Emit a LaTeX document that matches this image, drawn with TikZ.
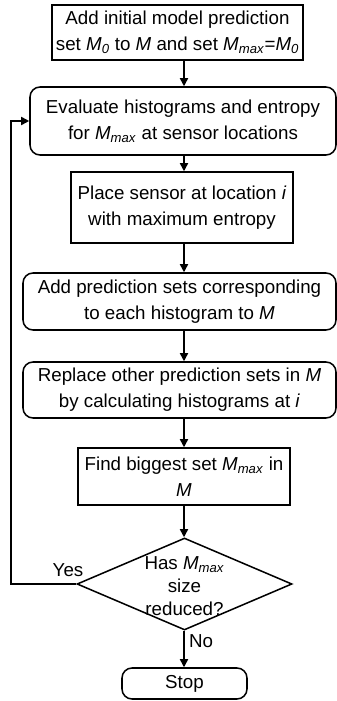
\documentclass[tikz,border=0pt]{standalone}
\usepackage{fontspec}
\setmainfont{Liberation Sans}
\usetikzlibrary{arrows.meta,shapes.geometric}

\newcommand{\Mi}{\textit{M}}
\newcommand{\Msub}[1]{\textit{M}\textsubscript{\textit{#1}}}

\begin{document}
\begin{tikzpicture}[x=0.03cm, y=-0.03cm]
    \tikzset{
        stepbox/.style = {
            draw,
            line width = 1.3pt,
            align = center,
            inner sep = 2pt,
            font = \fontsize{16pt}{22pt}\selectfont
        },
        roundbox/.style = {
            stepbox,
            rounded corners = 0.3cm
        },
        decision/.style = {
            draw,
            line width = 1.3pt,
            diamond,
            inner sep = 0pt,
            minimum width = 6.45cm,
            minimum height = 2.76cm
        },
        lbl/.style = {
            align = center,
            inner sep = 0pt,
            font = \fontsize{16pt}{19.5pt}\selectfont
        },
        arr/.style = {
            line width = 1.3pt,
            -{Triangle[length=7pt, width=7pt]}
        }
    }

    \useasboundingbox (0,0) rectangle (337,701);

    % boxes
    \node[stepbox, minimum width = 7.53cm, minimum height = 1.65cm] (init) at (177.5,32.5)
        {Add initial model prediction\\set \Msub{0} to \Mi{} and set \Msub{max}=\Msub{0}};
    \node[roundbox, minimum width = 9.18cm, minimum height = 2.04cm] (eval) at (183,121)
        {Evaluate histograms and entropy\\for \Msub{max} at sensor locations};
    \node[stepbox, minimum width = 6.66cm, minimum height = 2.13cm] (place) at (182,207.5)
        {Place sensor at location \textit{i}\\with maximum entropy};
    \node[roundbox, minimum width = 9.39cm, minimum height = 1.71cm] (add) at (179.5,301.5)
        {Add prediction sets corresponding\\to each histogram to \Mi};
    \node[roundbox, minimum width = 9.39cm, minimum height = 1.68cm] (repl) at (179.5,390)
        {Replace other prediction sets in \Mi\\by calculating histograms at \textit{i}};
    \node[stepbox, minimum width = 6.36cm, minimum height = 1.71cm] (find) at (184,476.5)
        {Find biggest set \Msub{max} in\\\Mi};
    \node[decision] (dec) at (184.5,584) {};
    \node[lbl] (dectxt) at (184.5,586) {Has \Msub{max}\\size\\reduced?};
    \node[roundbox, minimum width = 3.75cm, minimum height = 0.93cm] (stop) at (184.5,683.5)
        {Stop};

    % connectors
    \coordinate (axis) at (184,0);
    \coordinate (loop) at (11,0);
    \foreach \s/\t in {init/eval, eval/place, place/add, add/repl, repl/find, find/dec, dec/stop}{
        \draw[arr] (\s.south -| axis) -- (\t.north -| axis);
    }
    \draw[arr] (dec.west) -- (dec.west -| loop) |- (eval.west);

    \node[lbl] (yes) at (68,570) {Yes};
    \node[lbl] (no) at (201,641) {No};

\end{tikzpicture}
\end{document}
